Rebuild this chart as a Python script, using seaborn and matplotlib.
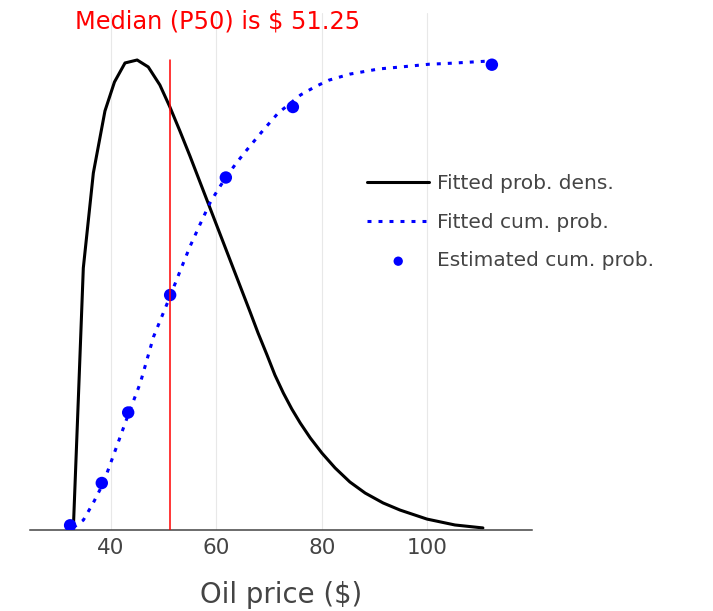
import matplotlib
matplotlib.use("Agg")
import matplotlib.pyplot as plt
import pandas as pd
import seaborn as sns

# Fitted probability density of the oil price
dens_price = [32.9, 33.9, 34.8, 36.7, 38.9, 40.7, 42.7, 45.0, 47.1, 49.3, 51.2,
              53.1, 55.0, 56.9, 58.8, 60.7, 62.6, 64.5, 66.4, 67.9, 69.6, 71.1,
              72.7, 74.3, 75.9, 77.8, 80.0, 82.5, 85.3, 88.2, 91.6, 94.8, 99.9,
              105.2, 110.5]
dens_value = [0.0, 0.00927, 0.01774, 0.02417, 0.02837, 0.03033, 0.03162, 0.03182,
              0.03135, 0.03013, 0.02864, 0.02701, 0.02532, 0.02356, 0.02180,
              0.02004, 0.01828, 0.01652, 0.01476, 0.01334, 0.01185, 0.01049,
              0.00927, 0.00819, 0.00724, 0.00623, 0.00521, 0.00420, 0.00325,
              0.00250, 0.00183, 0.00135, 0.00074, 0.00034, 0.00014]

# Fitted cumulative probability
cum_price = [32.9, 34.8, 36.7, 38.6, 41.1, 43.3, 45.6, 48.1, 51.2, 53.1, 55.0,
             56.9, 58.8, 60.3, 61.8, 63.8, 65.8, 68.9, 71.7, 76.0, 78.7, 81.3,
             85.3, 90.8, 94.8, 100.3, 104.3, 112.0]
cum_value = [0.005, 0.021, 0.058, 0.100, 0.177, 0.245, 0.313, 0.411, 0.496, 0.550,
             0.603, 0.650, 0.696, 0.724, 0.750, 0.781, 0.809, 0.851, 0.887, 0.926,
             0.943, 0.957, 0.970, 0.981, 0.985, 0.991, 0.993, 0.998]

# Estimated cumulative probabilities (percentiles)
est_price = [32.3, 38.3, 43.3, 51.25, 61.8, 74.5, 112.2]
est_value = [0.01, 0.10, 0.25, 0.50, 0.75, 0.90, 0.99]

median_price = 51.25
x_ticks = [40, 60, 80, 100]

dens_df = pd.DataFrame({"price": dens_price, "density": dens_value})
cum_df = pd.DataFrame({"price": cum_price, "cum": cum_value})
est_df = pd.DataFrame({"price": est_price, "cum": est_value})

sns.set_style("white")
plt.rcParams["font.family"] = ["DejaVu Sans"]

W, H = 713, 611
fig = plt.figure(figsize=(W / 100, H / 100), dpi=100)
left, right, top, bottom = 30, 532, 13, 530
ax = fig.add_axes([left / W, 1 - bottom / H, (right - left) / W, (bottom - top) / H])
ax2 = ax.twinx()

sns.lineplot(data=dens_df, x="price", y="density", ax=ax, color="black",
             linewidth=2.2, label="Fitted prob. dens.", legend=False)
sns.lineplot(data=cum_df, x="price", y="cum", ax=ax2, color="#0000ff",
             linewidth=2.2, dashes=False, label="Fitted cum. prob.", legend=False)
ax2.lines[-1].set_linestyle((0, (1.3, 2.3)))
sns.scatterplot(data=est_df, x="price", y="cum", ax=ax2, color="#0000ff",
                s=80, edgecolor="none", label="Estimated cum. prob.", legend=False)
ax2.plot([median_price, median_price], [0, 1], color="red", linewidth=1.1)

peak = max(dens_value)
ax.set_xlim(24.7, 119.8)
ax.set_ylim(0, peak * 1.1)
ax2.set_ylim(0, 1.1)

ax.set_xticks(x_ticks)
ax.set_yticks([])
ax2.set_yticks([])
ax.set_ylabel("")
ax2.set_ylabel("")
ax.tick_params(axis="x", length=0, pad=6, labelsize=15.5, labelcolor="#444444")
ax.grid(axis="x", color="#e8e8e8", linewidth=0.8)
ax.grid(axis="y", visible=False)
ax.set_axisbelow(True)
for s in ["top", "left", "right"]:
    ax.spines[s].set_visible(False)
for s in ax2.spines.values():
    s.set_visible(False)
ax.spines["bottom"].set_color("#444444")
ax.spines["bottom"].set_linewidth(1.1)
ax.set_xlabel("Oil price ($)", fontsize=19.8, color="#444444", labelpad=16)

fig.text(75 / W, 1 - 22 / H, f"Median (P50) is $ {median_price:.2f}",
         color="red", fontsize=17.3, ha="left", va="center")

h1, l1 = ax.get_legend_handles_labels()
h2, l2 = ax2.get_legend_handles_labels()
fig.legend(h1 + h2[:2], l1 + l2[:2], loc="upper left",
           bbox_to_anchor=(367 / W, 1 - 174 / H), frameon=False,
           fontsize=14.5, labelcolor="#444444", handlelength=3.1,
           handletextpad=0.4, labelspacing=0.98, borderpad=0, borderaxespad=0,
           markerscale=0.75)

fig.savefig("out.png", dpi=100)
